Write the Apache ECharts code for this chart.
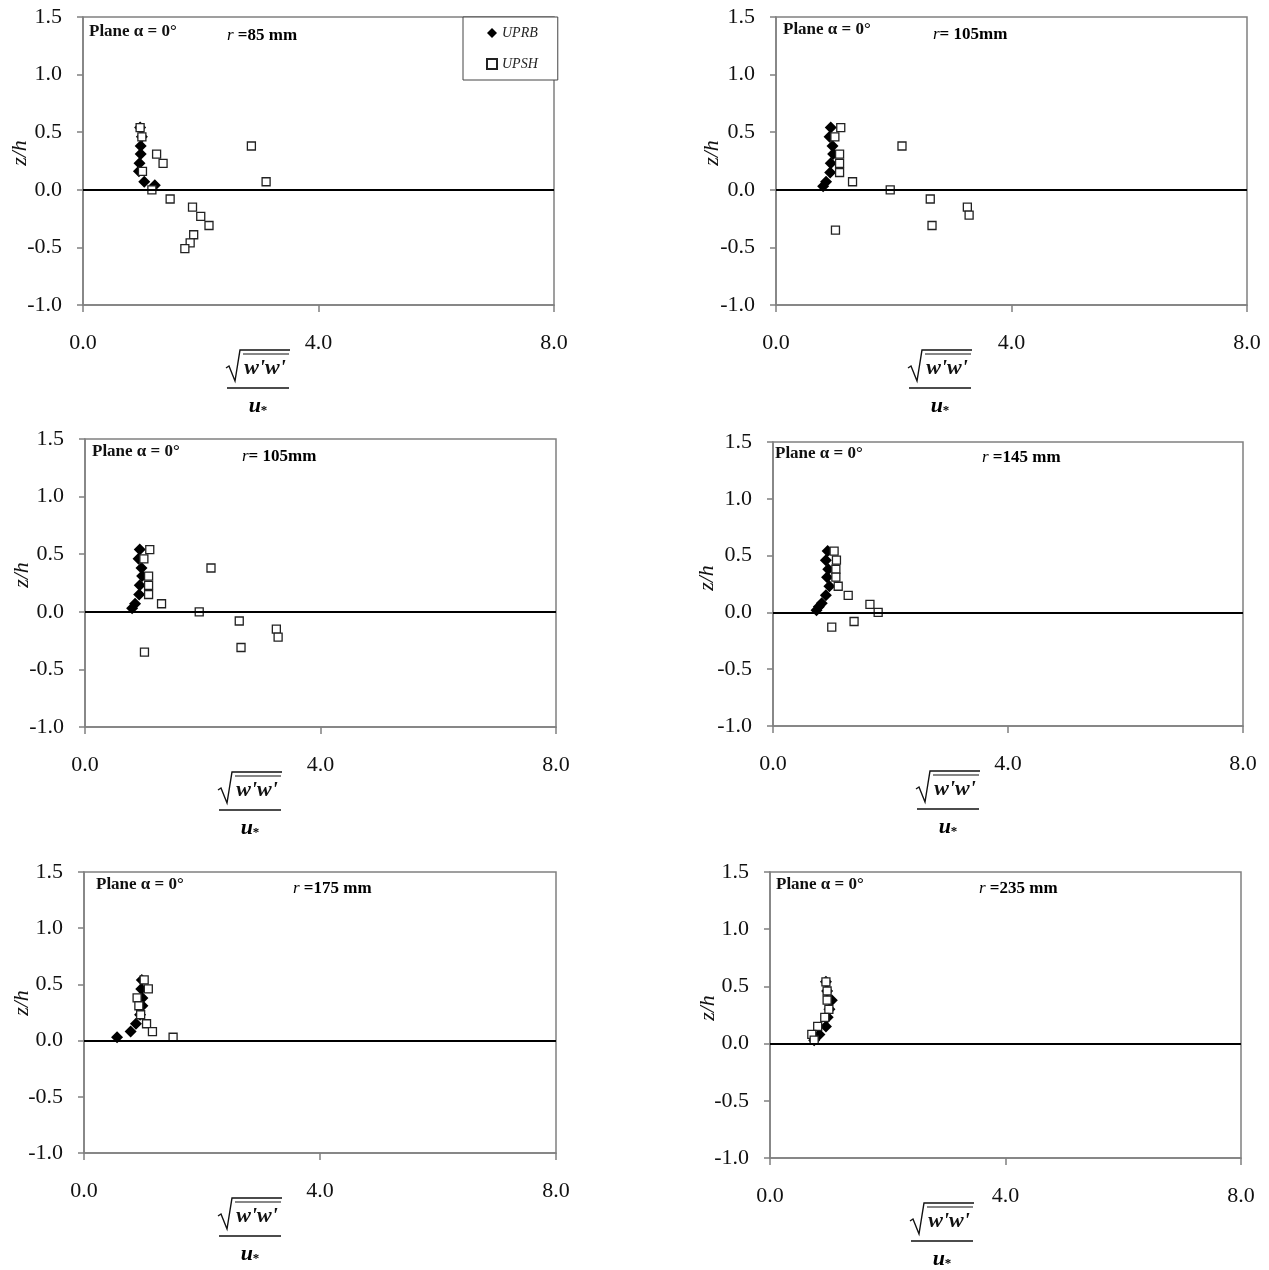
<!DOCTYPE html>
<html>
<head>
<meta charset="utf-8">
<script src="https://cdn.jsdelivr.net/npm/echarts@6/dist/echarts.min.js"></script>
<style>
  html, body { margin: 0; padding: 0; background: #fff; }
  #chart { width: 1269px; height: 1270px; }
</style>
</head>
<body>
<div id="chart"></div>
<script>
// values, pairs of [sqrt(w'w')/u*, z/h]
var uprb85 = [[0.97, 0.54], [1.00, 0.46], [0.98, 0.38], [0.98, 0.31], [0.96, 0.23], [0.95, 0.16], [1.04, 0.07], [1.22, 0.04]];
var upsh85 = [[0.97, 0.54], [1.00, 0.46], [2.86, 0.38], [1.25, 0.31], [1.36, 0.23], [1.01, 0.16], [3.11, 0.07], [1.17, 0.00],
  [1.48, -0.08], [1.86, -0.15], [2.00, -0.23], [2.14, -0.31], [1.88, -0.39], [1.82, -0.46], [1.73, -0.51]];

var uprb105 = [[0.93, 0.54], [0.91, 0.46], [0.96, 0.38], [0.97, 0.31], [0.93, 0.23], [0.92, 0.15], [0.85, 0.07], [0.80, 0.03]];
var upsh105 = [[1.10, 0.54], [1.00, 0.46], [2.14, 0.38], [1.08, 0.31], [1.08, 0.23], [1.08, 0.15], [1.30, 0.07], [1.94, 0.00],
  [2.62, -0.08], [3.25, -0.15], [3.28, -0.22], [2.65, -0.31], [1.01, -0.35]];

var uprb145 = [[0.93, 0.54], [0.90, 0.46], [0.94, 0.38], [0.92, 0.31], [0.96, 0.23], [0.90, 0.15], [0.83, 0.08], [0.78, 0.05], [0.74, 0.02]];
var upsh145 = [[1.04, 0.54], [1.08, 0.46], [1.07, 0.38], [1.07, 0.31], [1.11, 0.23], [1.28, 0.15], [1.65, 0.07], [1.79, 0.00],
  [1.38, -0.08], [1.00, -0.13]];

var uprb175 = [[0.98, 0.54], [0.97, 0.46], [0.99, 0.38], [0.99, 0.31], [0.95, 0.23], [0.88, 0.15], [0.79, 0.08], [0.56, 0.03]];
var upsh175 = [[1.02, 0.54], [1.09, 0.46], [0.90, 0.38], [0.93, 0.31], [0.96, 0.23], [1.06, 0.15], [1.16, 0.08], [1.51, 0.03]];

var uprb235 = [[0.95, 0.54], [0.97, 0.46], [1.05, 0.38], [1.01, 0.30], [0.98, 0.23], [0.95, 0.15], [0.84, 0.08], [0.75, 0.03]];
var upsh235 = [[0.95, 0.54], [0.97, 0.46], [0.97, 0.38], [1.00, 0.30], [0.93, 0.23], [0.81, 0.15], [0.71, 0.08], [0.75, 0.03]];

var radiusLabels = [' =85 mm', '= 105mm', '= 105mm', ' =145 mm', ' =175 mm', ' =235 mm'];
var xTicks = [0, 4, 8];
var yTicks = [-1.0, -0.5, 0.0, 0.5, 1.0, 1.5];

// panel layout (pixels)
var panels = [
  { left: 83,  top: 17,  w: 471, h: 288, fx: 175, plane: [6, 15],  rpos: [144, 19], zh: [20, 153],  uprb: uprb85,  upsh: upsh85 },
  { left: 776, top: 17,  w: 471, h: 288, fx: 164, plane: [7, 13],  rpos: [157, 18], zh: [712, 153], uprb: uprb105, upsh: upsh105 },
  { left: 85,  top: 439, w: 471, h: 288, fx: 165, plane: [7, 13],  rpos: [157, 18], zh: [22, 575],  uprb: uprb105, upsh: upsh105 },
  { left: 773, top: 442, w: 470, h: 284, fx: 175, plane: [2, 12],  rpos: [209, 16], zh: [707, 578], uprb: uprb145, upsh: upsh145 },
  { left: 84,  top: 872, w: 472, h: 281, fx: 166, plane: [12, 13], rpos: [209, 17], zh: [22, 1003], uprb: uprb175, upsh: upsh175 },
  { left: 770, top: 872, w: 471, h: 286, fx: 172, plane: [6, 13],  rpos: [209, 17], zh: [708, 1008], uprb: uprb235, upsh: upsh235 }
];

var serif = '"Liberation Serif", "Times New Roman", serif';
var axisGrey = '#808080';

var grids = [], xAxes = [], yAxes = [], series = [], graphics = [];

function txt(x, y, text, font, align, extra) {
  var el = {
    type: 'text', x: x, y: y, silent: true,
    style: {
      text: text, font: font, fill: '#111',
      textAlign: align, textVerticalAlign: 'middle',
      align: align, verticalAlign: 'middle'
    }
  };
  if (extra) {
    for (var k in extra) el[k] = extra[k];
  }
  return el;
}

panels.forEach(function (p, i) {
  grids.push({
    left: p.left, top: p.top, width: p.w, height: p.h,
    show: true, borderColor: axisGrey, borderWidth: 1.5, backgroundColor: 'transparent'
  });
  xAxes.push({
    gridIndex: i, type: 'value', min: xTicks[0], max: xTicks[xTicks.length - 1], interval: 4,
    axisLine: { onZero: false, lineStyle: { color: axisGrey, width: 1.5 } },
    axisTick: { show: true, length: 7, lineStyle: { color: axisGrey, width: 1.5 } },
    axisLabel: {
      margin: 27, color: '#111', fontSize: 22, fontFamily: serif,
      formatter: function (v) { return v.toFixed(1); }
    },
    splitLine: { show: false }
  });
  yAxes.push({
    gridIndex: i, type: 'value', min: yTicks[0], max: yTicks[yTicks.length - 1], interval: 0.5,
    axisLine: { onZero: false, lineStyle: { color: axisGrey, width: 1.5 } },
    axisTick: { show: true, length: 6, lineStyle: { color: axisGrey, width: 1.5 } },
    axisLabel: {
      margin: 21, color: '#111', fontSize: 22, fontFamily: serif,
      formatter: function (v) { return v.toFixed(1); }
    },
    splitLine: { show: false }
  });

  series.push({
    name: 'UPRB', type: 'scatter', xAxisIndex: i, yAxisIndex: i,
    data: p.uprb, symbol: 'diamond', symbolSize: 12,
    itemStyle: { color: '#000', opacity: 1 }, z: 3,
    markLine: {
      silent: true, symbol: 'none', label: { show: false },
      lineStyle: { color: '#000', width: 2, type: 'solid' },
      data: [{ yAxis: 0 }]
    }
  });
  series.push({
    name: 'UPSH', type: 'scatter', xAxisIndex: i, yAxisIndex: i,
    data: p.upsh, symbol: 'rect', symbolSize: 8,
    itemStyle: { color: '#fff', borderColor: '#222', borderWidth: 1.3, opacity: 1 }, z: 4
  });

  // text in the corner of each panel
  graphics.push(txt(p.left + p.plane[0], p.top + p.plane[1], 'Plane α = 0°', 'bold 17px ' + serif, 'left'));
  graphics.push({
    type: 'text', x: p.left + p.rpos[0], y: p.top + p.rpos[1], silent: true,
    style: {
      text: '{i|r}{n|' + radiusLabels[i] + '}',
      textAlign: 'left', textVerticalAlign: 'middle', align: 'left', verticalAlign: 'middle',
      rich: {
        i: { fontFamily: serif, fontSize: 17, fontStyle: 'italic', color: '#111' },
        n: { fontFamily: serif, fontSize: 17, fontWeight: 'bold', color: '#111' }
      }
    }
  });

  // y axis title
  graphics.push(txt(p.zh[0], p.zh[1], 'z/h', 'italic 22px ' + serif, 'center', { rotation: Math.PI / 2 }));

  // x axis title: sqrt(mean(w'w')) / u*
  var cx = p.left + p.fx, b = p.top + p.h;
  graphics.push({
    type: 'polyline', silent: true,
    shape: { points: [[cx - 32, b + 63], [cx - 29, b + 61], [cx - 23, b + 76], [cx - 18, b + 45], [cx + 32, b + 45]] },
    style: { stroke: '#111', lineWidth: 1.4, fill: null }
  });
  graphics.push({
    type: 'line', silent: true,
    shape: { x1: cx - 15, y1: b + 49, x2: cx + 31, y2: b + 49 },
    style: { stroke: '#111', lineWidth: 1.2 }
  });
  graphics.push(txt(cx + 7, b + 63, "w'w'", 'bold italic 22px ' + serif, 'center'));
  graphics.push({
    type: 'line', silent: true,
    shape: { x1: cx - 31, y1: b + 83, x2: cx + 31, y2: b + 83 },
    style: { stroke: '#111', lineWidth: 1.5 }
  });
  graphics.push({
    type: 'text', x: cx, y: b + 101, silent: true,
    style: {
      text: '{u|u}{s|*}',
      textAlign: 'center', textVerticalAlign: 'middle', align: 'center', verticalAlign: 'middle',
      rich: {
        u: { fontFamily: serif, fontSize: 22, fontStyle: 'italic', fontWeight: 'bold', color: '#111' },
        s: { fontFamily: serif, fontSize: 13, fontWeight: 'bold', color: '#111', padding: [10, 0, 0, 0] }
      }
    }
  });
});

var chart = echarts.init(document.getElementById('chart'));
chart.setOption({
  animation: false,
  backgroundColor: '#fff',
  grid: grids,
  xAxis: xAxes,
  yAxis: yAxes,
  legend: {
    data: ['UPRB', 'UPSH'], orient: 'vertical', left: 463, top: 17,
    padding: [9, 20, 9, 23], itemGap: 17, itemWidth: 10, itemHeight: 10,
    backgroundColor: '#fff', borderColor: '#444', borderWidth: 1, borderRadius: 0,
    selectedMode: false,
    textStyle: { fontFamily: serif, fontStyle: 'italic', fontSize: 14, color: '#222' }
  },
  graphic: graphics,
  series: series
});
</script>
</body>
</html>
